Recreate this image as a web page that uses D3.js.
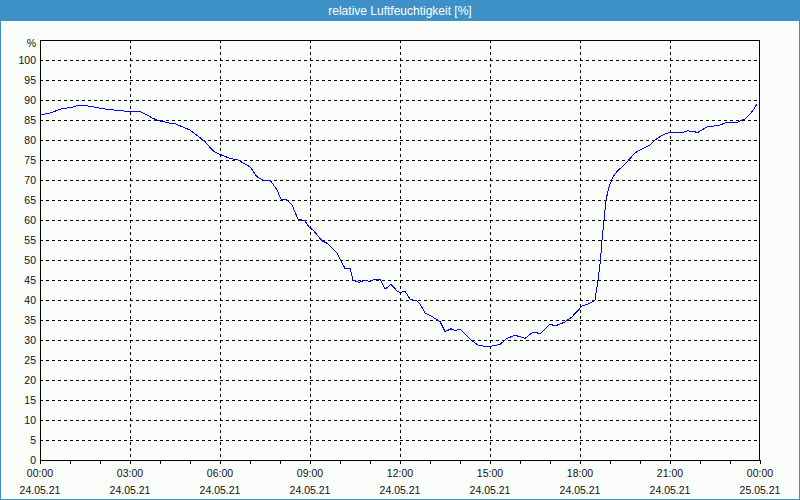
<!DOCTYPE html>
<html><head><meta charset="utf-8">
<script src="https://cdn.jsdelivr.net/npm/d3@7"></script>
<style>
html,body{margin:0;padding:0;background:#fff;}
svg{display:block;}
text{font-family:"Liberation Sans",Arial,sans-serif;}
</style></head>
<body>
<svg id="c" width="800" height="500"></svg>
<script>
const title = "relative Luftfeuchtigkeit [%]";
const unitLabel = "%";
const day = "2021-05-24";
const times = ["00:00","00:22","00:40","01:06","01:16","01:30","01:42","02:06","02:36","03:00","03:20","03:32","03:46","03:56","04:16","04:32","04:52","05:00","05:30","05:46","06:00","06:20","06:36","07:00","07:14","07:26","07:40","07:54","08:02","08:14","08:24","08:36","08:50","08:58","09:06","09:24","09:34","09:46","09:54","10:10","10:20","10:26","10:38","10:50","11:00","11:10","11:20","11:30","11:42","11:54","12:00","12:10","12:20","12:34","12:40","12:50","13:06","13:20","13:30","13:42","13:50","14:00","14:20","14:36","14:54","15:04","15:20","15:34","15:50","16:00","16:10","16:24","16:32","16:40","17:00","17:10","17:30","17:44","17:54","18:04","18:20","18:30","18:36","18:41","18:44","18:48","18:52","18:58","19:06","19:14","19:24","19:36","19:50","20:06","20:20","20:34","20:50","21:00","21:26","21:36","21:56","22:14","22:36","22:54","23:14","23:24","23:30","23:40","23:48","23:54"];
const humidity = [86.25,86.8,87.7,88.25,88.7,88.6,88.4,87.8,87.4,87.1,87.1,86.4,85.4,84.9,84.3,84.0,82.9,82.5,79.6,77.3,76.4,75.4,75.0,73.3,70.8,70.0,70.0,67.5,65.2,65.0,63.75,60.2,59.8,58.2,57.5,54.8,54.2,52.75,51.7,47.9,47.9,45.0,44.4,45.0,44.6,45.2,45.2,42.7,43.9,42.3,41.8,42.25,40.2,39.75,39.0,36.8,35.7,34.6,32.1,32.8,32.4,32.7,30.2,28.75,28.3,28.5,28.9,30.4,31.2,30.8,30.4,31.8,31.9,31.5,34.0,33.5,34.5,35.8,37.1,38.5,39.2,39.9,45.0,50,55,60,65,68.3,70.8,72.1,73.3,74.8,76.8,77.9,78.75,80.4,81.5,81.9,81.9,82.3,81.9,83.3,83.6,84.4,84.4,85.0,85.2,86.5,87.8,89.0];
const yTicks = [0,5,10,15,20,25,30,35,40,45,50,55,60,65,70,75,80,85,90,95,100];
const yMax = 105;

const parse = d3.timeParse("%Y-%m-%d %H:%M");
const data = times.map((t,i)=>({t:parse(day+" "+t), v:humidity[i]}));
const t0 = parse(day+" 00:00");
const t1 = d3.timeDay.offset(t0,1);

const svg = d3.select("#c");
const W=800,H=500;
const L=40,R=760,T=40,B=460;
const bg="#fbfdfb", blue="#3d91c6";

svg.append("rect").attr("x",0).attr("y",0).attr("width",W).attr("height",H).attr("fill",bg);
svg.append("rect").attr("x",0.5).attr("y",0.5).attr("width",W-1).attr("height",H-1).attr("fill","none").attr("stroke",blue);
svg.append("rect").attr("x",0).attr("y",0).attr("width",W).attr("height",21).attr("fill",blue);
svg.append("text").attr("x",400).attr("y",14.5).attr("text-anchor","middle").attr("fill","#fff").attr("font-size","12px").text(title);

const x = d3.scaleTime().domain([t0,t1]).range([L,R]);
const y = d3.scaleLinear().domain([0,yMax]).range([B,T]);

// grid
const g = svg.append("g").attr("shape-rendering","crispEdges");
g.selectAll("line.h").data(yTicks.filter(d=>d>0)).join("line")
  .attr("x1",L).attr("x2",R).attr("y1",d=>y(d)).attr("y2",d=>y(d))
  .attr("stroke","#000").attr("stroke-dasharray","3,3");
const vt = d3.timeHour.every(3).range(t0,t1).filter(d=>+d>+t0);
g.selectAll("line.v").data(vt).join("line")
  .attr("x1",d=>x(d)).attr("x2",d=>x(d)).attr("y1",T).attr("y2",B)
  .attr("stroke","#000").attr("stroke-dasharray","3,3");

// axes
const yAxis = d3.axisLeft(y).tickValues(yTicks).tickSize(0).tickPadding(4);
const ya = svg.append("g").attr("transform",`translate(${L},0)`).call(yAxis);
ya.select(".domain").remove();
ya.selectAll("text").attr("font-size","10.5px").attr("fill","#111").attr("font-family","Liberation Sans, Arial, sans-serif");
svg.append("text").attr("x",L-4).attr("y",T+4).attr("dy","0.32em").attr("text-anchor","end").attr("font-size","10.5px").attr("fill","#111").text(unitLabel);

const xAxis = d3.axisBottom(x).ticks(d3.timeHour.every(1)).tickSize(4).tickFormat("");
const xa = svg.append("g").attr("transform",`translate(0,${B})`).attr("shape-rendering","crispEdges").call(xAxis);
xa.select(".domain").remove();
xa.selectAll("line").attr("stroke","#000");

const labT = d3.timeHour.every(3).range(t0,d3.timeMinute.offset(t1,1));
const fmtH = d3.timeFormat("%H:%M"), fmtD = d3.timeFormat("%d.%m.%y");
const lab = svg.append("g");
lab.selectAll("text.h").data(labT).join("text").attr("x",d=>x(d)).attr("y",477)
  .attr("text-anchor","middle").attr("font-size","10.5px").attr("fill","#111").text(d=>fmtH(d));
lab.selectAll("text.d").data(labT).join("text").attr("x",d=>x(d)).attr("y",494)
  .attr("text-anchor","middle").attr("font-size","10.5px").attr("fill","#111").text(d=>fmtD(d));

// frame
svg.append("rect").attr("x",L+0.5).attr("y",T+0.5).attr("width",R-L-1).attr("height",B-T).attr("fill","none").attr("stroke","#000")
  .attr("shape-rendering","crispEdges");
svg.append("line").attr("x1",L).attr("x2",R).attr("y1",B+0.5).attr("y2",B+0.5).attr("stroke","#000");

// line
const line = d3.line().x(d=>x(d.t)).y(d=>y(d.v));
svg.append("path").datum(data).attr("d",line).attr("fill","none").attr("stroke","#0000ff").attr("stroke-width",1)
  .attr("shape-rendering","crispEdges");
</script>
</body></html>
